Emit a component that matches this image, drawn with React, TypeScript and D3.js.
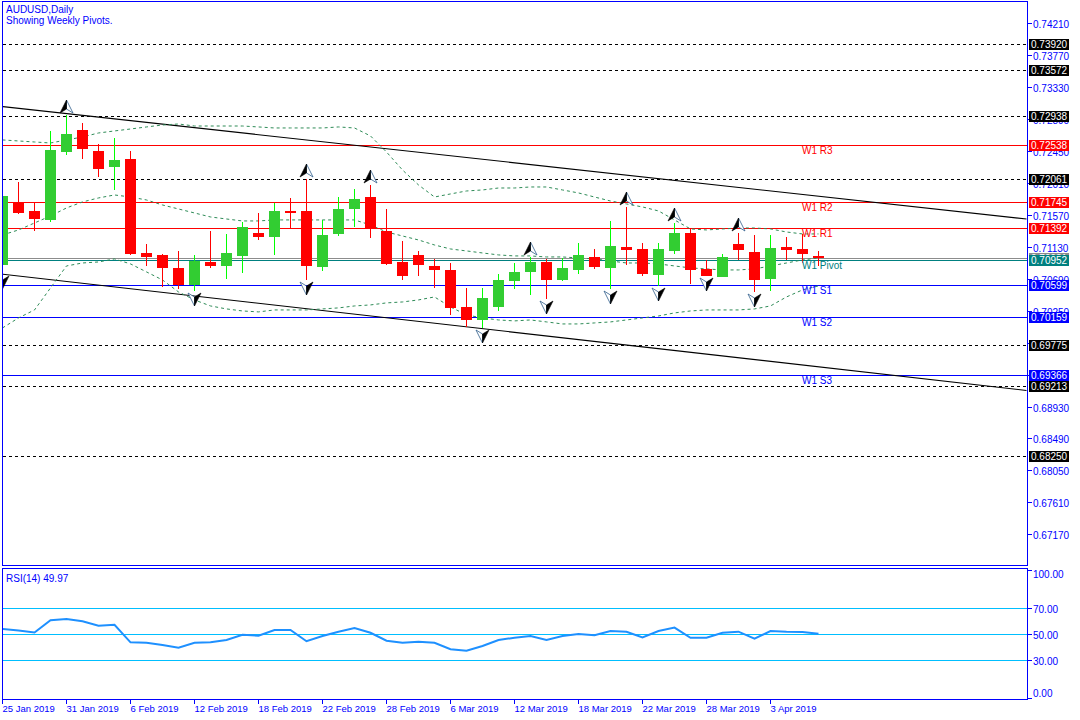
import React from 'react';
import * as d3 from 'd3';

// daily AUDUSD bars, 25 Jan 2019 .. 8 Apr 2019
const opens = [0.70885, 0.71744, 0.71629, 0.71501, 0.72441, 0.72740, 0.72451, 0.72231, 0.72341, 0.71046,
  0.71019, 0.70840, 0.70601, 0.70922, 0.70871, 0.71009, 0.71322, 0.71271, 0.71629, 0.71625,
  0.70857, 0.71312, 0.71656, 0.71813, 0.71353, 0.70922, 0.71019, 0.70867, 0.70812, 0.70302,
  0.70127, 0.70306, 0.70665, 0.70789, 0.70922, 0.70675, 0.70812, 0.70987, 0.70844, 0.71129,
  0.71101, 0.70743, 0.71070, 0.71326, 0.70830, 0.70716, 0.71170, 0.71064, 0.70688, 0.71129,
  0.71101, 0.71009];
const highs = [0.71859, 0.72028, 0.71739, 0.72727, 0.72947, 0.72841, 0.72543, 0.72630, 0.72451, 0.71170,
  0.71032, 0.71074, 0.71019, 0.71349, 0.71308, 0.71473, 0.71597, 0.71735, 0.71800, 0.72065,
  0.71501, 0.71814, 0.71932, 0.71987, 0.71652, 0.71211, 0.71074, 0.70963, 0.70908, 0.70568,
  0.70568, 0.70757, 0.70908, 0.70987, 0.70963, 0.70973, 0.71188, 0.71101, 0.71487, 0.71684,
  0.71188, 0.71188, 0.71463, 0.71395, 0.70950, 0.71028, 0.71317, 0.71294, 0.71294, 0.71267,
  0.71308, 0.71074];
const lows = [0.70757, 0.71583, 0.71353, 0.71477, 0.72396, 0.72341, 0.72093, 0.71914, 0.71014, 0.70867,
  0.70582, 0.70550, 0.70523, 0.70844, 0.70688, 0.70771, 0.71229, 0.71023, 0.71385, 0.70674,
  0.70798, 0.71284, 0.71407, 0.71257, 0.70881, 0.70678, 0.70733, 0.70568, 0.70196, 0.70031,
  0.70017, 0.70251, 0.70554, 0.70472, 0.70409, 0.70661, 0.70757, 0.70822, 0.70550, 0.70881,
  0.70733, 0.70592, 0.71032, 0.70616, 0.70729, 0.70716, 0.70950, 0.70513, 0.70527, 0.70950,
  0.70908, 0.70867];
const closes = [0.71831, 0.71601, 0.71519, 0.72465, 0.72685, 0.72479, 0.72203, 0.72327, 0.71032, 0.70991,
  0.70844, 0.70601, 0.70940, 0.70871, 0.71046, 0.71404, 0.71271, 0.71625, 0.71601, 0.70871,
  0.71294, 0.71652, 0.71796, 0.71390, 0.70899, 0.70733, 0.70885, 0.70816, 0.70293, 0.70127,
  0.70422, 0.70674, 0.70784, 0.70922, 0.70675, 0.70835, 0.71019, 0.70857, 0.71143, 0.71092,
  0.70757, 0.71101, 0.71326, 0.70812, 0.70733, 0.70987, 0.71087, 0.70674, 0.71115, 0.71092,
  0.71036, 0.70981];

// bollinger bands as shown
const bandUpper = [0.72603, 0.72589, 0.72575, 0.72561, 0.72603, 0.72644, 0.72699, 0.72727, 0.72754, 0.72782,
  0.72809, 0.72823, 0.72795, 0.72795, 0.72795, 0.72795, 0.72782, 0.72768, 0.72768, 0.72768,
  0.72768, 0.72782, 0.72768, 0.72658, 0.72437, 0.72189, 0.71983, 0.71817, 0.71859, 0.71900,
  0.71914, 0.71941, 0.71941, 0.71955, 0.71955, 0.71914, 0.71873, 0.71817, 0.71762, 0.71721,
  0.71680, 0.71625, 0.71501, 0.71377, 0.71363, 0.71377, 0.71390, 0.71390, 0.71377, 0.71335,
  0.71308, 0.71308];
const bandMiddle = [0.71294, 0.71363, 0.71459, 0.71556, 0.71666, 0.71749, 0.71804, 0.71845, 0.71817, 0.71776,
  0.71707, 0.71652, 0.71597, 0.71542, 0.71514, 0.71487, 0.71487, 0.71501, 0.71501, 0.71501,
  0.71501, 0.71501, 0.71501, 0.71432, 0.71335, 0.71280, 0.71225, 0.71156, 0.71101, 0.71074,
  0.71046, 0.71019, 0.71005, 0.71005, 0.70991, 0.70991, 0.70977, 0.70964, 0.70936, 0.70908,
  0.70908, 0.70895, 0.70867, 0.70840, 0.70826, 0.70812, 0.70812, 0.70826, 0.70867, 0.70908,
  0.70950, 0.70977];
const bandLower = [0.70013, 0.70151, 0.70261, 0.70564, 0.70867, 0.70908, 0.70922, 0.70964, 0.70895, 0.70785,
  0.70674, 0.70509, 0.70399, 0.70316, 0.70275, 0.70247, 0.70234, 0.70261, 0.70261, 0.70261,
  0.70275, 0.70289, 0.70316, 0.70330, 0.70358, 0.70371, 0.70399, 0.70440, 0.70302, 0.70192,
  0.70151, 0.70123, 0.70110, 0.70123, 0.70096, 0.70068, 0.70068, 0.70082, 0.70096, 0.70123,
  0.70151, 0.70178, 0.70220, 0.70247, 0.70261, 0.70261, 0.70261, 0.70275, 0.70316, 0.70440,
  0.70537, 0.70592];

const rsi = [53.7, 52.5, 51.0, 60.3, 61.3, 59.5, 56.2, 56.9, 43.5, 43.2,
  41.5, 39.4, 43.2, 43.5, 45.3, 49.3, 48.5, 52.9, 52.9, 44.3,
  48.3, 51.6, 54.4, 50.8, 44.7, 43.2, 44.0, 43.2, 38.2, 37.1,
  40.7, 45.3, 47.0, 48.3, 45.3, 48.3, 49.8, 48.9, 52.1, 51.6,
  47.3, 52.1, 54.7, 47.0, 47.0, 50.8, 51.6, 46.3, 52.1, 51.6,
  51.4, 49.97];

const fractalUp = [4, 19, 23, 33, 39, 42, 46];
const fractalDown = [0, 12, 19, 30, 34, 38, 41, 44, 47];

const dateLabels = ['25 Jan 2019', '31 Jan 2019', '6 Feb 2019', '12 Feb 2019', '18 Feb 2019', '22 Feb 2019',
  '28 Feb 2019', '6 Mar 2019', '12 Mar 2019', '18 Mar 2019', '22 Mar 2019', '28 Mar 2019', '3 Apr 2019'];

const priceTicks = [0.7421, 0.7377, 0.7333, 0.7289, 0.7245, 0.7201, 0.7157, 0.7113, 0.7069, 0.7025,
  0.6981, 0.6937, 0.6893, 0.6849, 0.6805, 0.6761, 0.6717];
const rsiTicks = [100, 70, 50, 30, 0];
const rsiLevels = [70, 50, 30];

const dashedLevels = [0.7392, 0.73572, 0.72938, 0.72061, 0.69775, 0.69213, 0.6825];
const pivotNames = ['W1 R3', 'W1 R2', 'W1 R1', 'W1 Pivot', 'W1 S1', 'W1 S2', 'W1 S3'];
const pivotValues = [0.72538, 0.71745, 0.71392, 0.70952, 0.70599, 0.70159, 0.69366];
const bidPrice = 0.70981;

// trend channel anchors: [bar index, price]
const channelUpper: [number, number][] = [[0, 0.73063], [64, 0.71513]];
const channelLower: [number, number][] = [[0, 0.70753], [64, 0.69152]];

const FONT = '"Liberation Sans", Arial, sans-serif';
const BLUE = '#0000ff';

const pivotColor = (name: string) =>
  name.includes('R') ? '#ff0000' : name.includes('Pivot') ? '#008080' : '#0000ff';

const App: React.FC = () => {
  const x = d3.scaleLinear().domain([0, 51]).range([2, 818]);
  const y = d3.scaleLinear().domain([0.6717, 0.7421]).range([534.3, 23.3]);
  const yr = d3.scaleLinear().domain([0, 100]).range([699.3, 568.3]);
  const crisp = (v: number) => Math.round(v) + 0.5;

  const L = 2.5, R = 1027.5, mainTop = 1.5, mainBottom = 565.5, rsiTop = 568.5, rsiBottom = 699.5;

  const bandLine = d3.line<number>().x((_, i) => x(i) + 0.5).y(d => y(d));
  const rsiLine = d3.line<number>().x((_, i) => x(i) + 0.5).y(d => yr(d));
  const chan = d3.line<[number, number]>().x(d => x(d[0]) + 0.5).y(d => y(d[1]));

  const upArrow = (cx: number, tip: number) => ({
    dark: `M${cx},${tip} L${cx},${tip + 9} L${cx - 6.5},${tip + 13} Z`,
    light: `M${cx},${tip} L${cx + 6.5},${tip + 13} L${cx},${tip + 9} Z`,
  });
  const downArrow = (cx: number, tip: number) => ({
    dark: `M${cx},${tip} L${cx},${tip - 9} L${cx + 6.5},${tip - 13} Z`,
    light: `M${cx},${tip} L${cx - 6.5},${tip - 13} L${cx},${tip - 9} Z`,
  });

  const boxLabel = (v: number, bg: string, key: string) => {
    const yy = Math.round(y(v));
    return (
      <g key={key}>
        <rect x={1029} y={yy - 5} width={40} height={11} fill={bg} shapeRendering="crispEdges" />
        <text x={1031} y={yy + 4} fill="#fff" fontSize={10} fontFamily={FONT}>{v.toFixed(5)}</text>
      </g>
    );
  };

  return (
    <svg width={1080} height={720} style={{ position: 'fixed', left: 0, top: 0, background: '#fff' }}>
      <defs>
        <clipPath id="mainClip">
          <rect x={3} y={2} width={R - 3} height={mainBottom - 2} />
        </clipPath>
        <clipPath id="rsiClip">
          <rect x={3} y={rsiTop + 0.5} width={R - 3} height={rsiBottom - rsiTop - 1} />
        </clipPath>
      </defs>
      <rect width={1080} height={720} fill="#fff" />

      <g clipPath="url(#mainClip)">
        {dashedLevels.map((v, i) => (
          <line key={'d' + i} x1={L} x2={R} y1={crisp(y(v))} y2={crisp(y(v))}
            stroke="#000" strokeDasharray="3,3" shapeRendering="crispEdges" />
        ))}
        <line x1={L} x2={R} y1={crisp(y(bidPrice))} y2={crisp(y(bidPrice))} stroke="#8c8c8c" shapeRendering="crispEdges" />
        {pivotValues.map((v, i) => (
          <line key={'p' + i} x1={L} x2={R} y1={crisp(y(v))} y2={crisp(y(v))}
            stroke={pivotColor(pivotNames[i])} shapeRendering="crispEdges" />
        ))}
        <path d={chan(channelUpper) || ''} fill="none" stroke="#000" strokeWidth={1.1} />
        <path d={chan(channelLower) || ''} fill="none" stroke="#000" strokeWidth={1.1} />
        {[bandUpper, bandMiddle, bandLower].map((b, i) => (
          <path key={'b' + i} d={bandLine(b) || ''} fill="none" stroke="#2e8b57" strokeWidth={1} strokeDasharray="3,3" />
        ))}

        {opens.map((o, i) => {
          const c = closes[i];
          const up = c > o;
          const cx = x(i) + 0.5;
          const top = Math.round(y(Math.max(o, c)));
          const bot = Math.round(y(Math.min(o, c)));
          return (
            <g key={'c' + i} shapeRendering="crispEdges">
              <line x1={cx} x2={cx} y1={Math.round(y(highs[i]))} y2={Math.round(y(lows[i]))}
                stroke={up ? '#00ff00' : '#ff0000'} />
              <rect x={cx - 5.5} y={top} width={11} height={Math.max(2, bot - top)} fill={up ? '#32cd32' : '#ff0000'} />
            </g>
          );
        })}

        {fractalUp.map(i => {
          const a = upArrow(x(i) + 0.5, Math.round(y(highs[i])) - 15);
          return (
            <g key={'fu' + i}>
              <path d={a.light} fill="#fff" stroke="#2f5d8a" strokeWidth={0.8} />
              <path d={a.dark} fill="#000" stroke="#000" strokeWidth={0.6} />
            </g>
          );
        })}
        {fractalDown.map(i => {
          const a = downArrow(x(i) + 0.5, Math.round(y(lows[i])) + 15);
          return (
            <g key={'fd' + i}>
              <path d={a.light} fill="#fff" stroke="#2f5d8a" strokeWidth={0.8} />
              <path d={a.dark} fill="#000" stroke="#000" strokeWidth={0.6} />
            </g>
          );
        })}

        {pivotNames.map((n, i) => (
          <text key={'pl' + i} x={802} y={Math.round(y(pivotValues[i])) + 9} fill={pivotColor(n)}
            fontSize={10} fontFamily={FONT}>{n}</text>
        ))}
      </g>

      <text x={6} y={13} fill={BLUE} fontSize={10} fontFamily={FONT}>AUDUSD,Daily</text>
      <text x={6} y={24} fill={BLUE} fontSize={10} fontFamily={FONT}>Showing Weekly Pivots.</text>

      {/* price axis */}
      {priceTicks.map((v, i) => {
        const yy = crisp(y(v));
        return (
          <g key={'pt' + i}>
            <line x1={R} x2={R + 4} y1={yy} y2={yy} stroke={BLUE} shapeRendering="crispEdges" />
            <text x={1033} y={yy + 4} fill={BLUE} fontSize={10} fontFamily={FONT}>{v.toFixed(5)}</text>
          </g>
        );
      })}
      {dashedLevels.map((v, i) => boxLabel(v, '#000', 'bd' + i))}
      {boxLabel(bidPrice, '#8c8c8c', 'bid')}
      {pivotValues.map((v, i) => boxLabel(v, pivotColor(pivotNames[i]), 'bp' + i))}

      {/* RSI panel */}
      <g clipPath="url(#rsiClip)">
        {rsiLevels.map(v => (
          <line key={'rl' + v} x1={L} x2={R} y1={crisp(yr(v))} y2={crisp(yr(v))} stroke="#00bfff" shapeRendering="crispEdges" />
        ))}
        <path d={rsiLine(rsi) || ''} fill="none" stroke="#1e90ff" strokeWidth={2} />
      </g>
      <text x={6} y={582} fill={BLUE} fontSize={10} fontFamily={FONT}>RSI(14) {rsi[rsi.length - 1].toFixed(2)}</text>
      {rsiTicks.map(v => {
        const yy = crisp(yr(v));
        const tickY = v === 100 ? 570.5 : v === 0 ? 698.5 : yy;
        const ty = v === 100 ? 578 : v === 0 ? 697 : yy + 4;
        return (
          <g key={'rt' + v}>
            <line x1={R} x2={R + 4} y1={tickY} y2={tickY} stroke={BLUE} shapeRendering="crispEdges" />
            <text x={1033} y={ty} fill={BLUE} fontSize={10} fontFamily={FONT}>{v.toFixed(2)}</text>
          </g>
        );
      })}

      {/* frames */}
      <g fill="none" stroke={BLUE} shapeRendering="crispEdges">
        <rect x={L} y={mainTop} width={R - L} height={mainBottom - mainTop} />
        <rect x={L} y={rsiTop} width={R - L} height={rsiBottom - rsiTop} />
      </g>

      {/* time axis */}
      {dateLabels.map((d, k) => {
        const tx = x(k * 4) + 0.5;
        return (
          <g key={'dt' + k}>
            <line x1={tx} x2={tx} y1={rsiBottom} y2={rsiBottom + 4} stroke={BLUE} shapeRendering="crispEdges" />
            <text x={tx} y={712} fill={BLUE} fontSize={9.5} fontFamily={FONT}>{d}</text>
          </g>
        );
      })}
    </svg>
  );
};

export default App;
